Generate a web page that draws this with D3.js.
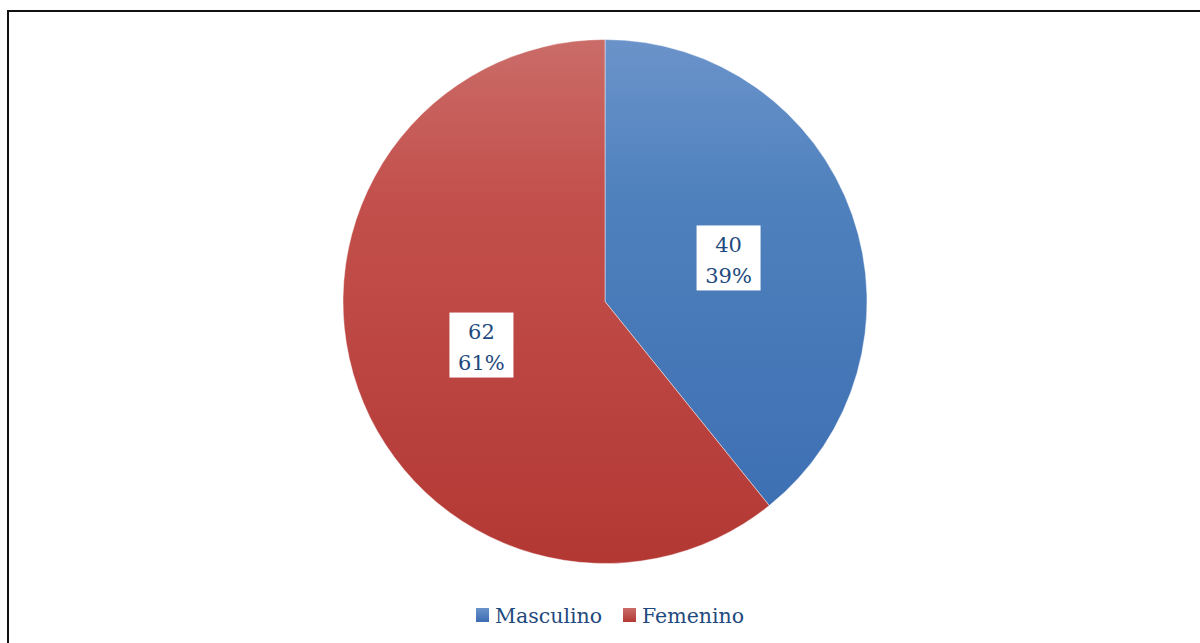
<!DOCTYPE html>
<html><head><meta charset="utf-8">
<script src="https://cdn.jsdelivr.net/npm/d3@7"></script>
<style>html,body{margin:0;padding:0;background:#fff;}svg{display:block;}</style>
</head><body>
<svg id="chart" width="1200" height="643"></svg>
<script>
const categories = ["Masculino", "Femenino"];
const values = [40, 62];
const percentLabels = ["39%", "61%"];

const W = 1200, H = 643;
const svg = d3.select("#chart");
const cx = 605, cy = 301.5, R = 262;

const defs = svg.append("defs");
const grads = [
  {id: "gBlue", stops: [[0, "#6b93ca"], [0.3, "#4f81bd"], [1, "#3a6cb2"]]},
  {id: "gRed", stops: [[0, "#ca6c68"], [0.3, "#c3504c"], [1, "#b33834"]]}
];
grads.forEach(g => {
  const lg = defs.append("linearGradient").attr("id", g.id)
    .attr("gradientUnits", "userSpaceOnUse")
    .attr("x1", 0).attr("y1", -R).attr("x2", 0).attr("y2", R);
  g.stops.forEach(s => lg.append("stop").attr("offset", s[0]).attr("stop-color", s[1]));
});
const color = d3.scaleOrdinal().domain(categories).range(["url(#gBlue)", "url(#gRed)"]);
const legendColor = d3.scaleOrdinal().domain(categories).range(["url(#lBlue)", "url(#lRed)"]);
[["lBlue", "#6b93ca", "#3a6cb2"], ["lRed", "#ca6c68", "#b33834"]].forEach(([id, a, b]) => {
  const lg = defs.append("linearGradient").attr("id", id).attr("x1", 0).attr("y1", 0).attr("x2", 0).attr("y2", 1);
  lg.append("stop").attr("offset", 0).attr("stop-color", a);
  lg.append("stop").attr("offset", 1).attr("stop-color", b);
});

// frame
svg.append("rect").attr("x", 8).attr("y", 11).attr("width", 1200).attr("height", 700)
  .attr("fill", "none").attr("stroke", "#111").attr("stroke-width", 2);

const pie = d3.pie().sort(null).value(d => d.v);
const data = categories.map((c, i) => ({c, v: values[i], p: percentLabels[i]}));
const arcs = pie(data);
const arc = d3.arc().innerRadius(0).outerRadius(R);
const labelArc = d3.arc().innerRadius(R * 0.5).outerRadius(R * 0.5);

const g = svg.append("g").attr("transform", `translate(${cx},${cy})`);
g.selectAll("path").data(arcs).join("path")
  .attr("d", arc)
  .attr("fill", d => color(d.data.c))
  .attr("stroke", "rgba(255,255,255,0.45)")
  .attr("stroke-width", 1);

const lab = g.selectAll("g.lab").data(arcs).join("g").attr("class", "lab")
  .attr("transform", d => `translate(${labelArc.centroid(d)})`);
lab.append("rect").attr("x", -32).attr("y", -32.5).attr("width", 64).attr("height", 65).attr("fill", "#fff");
lab.append("text").attr("text-anchor", "middle").attr("y", -6)
  .attr("font-family", "DejaVu Serif").attr("font-size", 21).attr("fill", "#1f4a7e")
  .text(d => d.data.v);
lab.append("text").attr("text-anchor", "middle").attr("y", 25)
  .attr("font-family", "DejaVu Serif").attr("font-size", 21).attr("fill", "#1f4a7e")
  .text(d => d.data.p);

// legend
const legX = [476, 623];
const leg = svg.append("g").selectAll("g").data(categories).join("g")
  .attr("transform", (d, i) => `translate(${legX[i]},608)`);
leg.append("rect").attr("width", 13).attr("height", 14).attr("fill", d => legendColor(d));
leg.append("text").attr("x", 19).attr("y", 15)
  .attr("font-family", "DejaVu Serif").attr("font-size", 20.5).attr("fill", "#1f4a7e")
  .text(d => d);
</script>
</body></html>
